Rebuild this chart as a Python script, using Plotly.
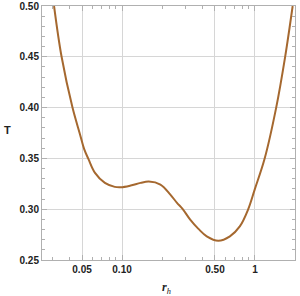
import numpy as np
import plotly.graph_objects as go

r_h = [0.0308, 0.0351, 0.0424, 0.0483, 0.0520, 0.0558, 0.0626, 0.0743, 0.0882, 0.0978, 0.1161, 0.1379,
       0.1590, 0.1944, 0.2309, 0.2591, 0.2852, 0.3256, 0.3755, 0.4337, 0.5295, 0.6475, 0.7688, 0.8867,
       0.9948, 1.181, 1.444, 1.686, 1.921]
T = [0.500, 0.450, 0.400, 0.3736, 0.3588, 0.3496, 0.3358, 0.3259, 0.3220, 0.3216, 0.3233, 0.3259,
     0.3272, 0.3243, 0.3144, 0.3062, 0.3003, 0.2897, 0.2806, 0.2733, 0.2690, 0.2733, 0.2831, 0.2996,
     0.3193, 0.3496, 0.400, 0.450, 0.500]

x_major = [0.05, 0.1, 0.5, 1]
x_major_labels = ["0.05", "0.10", "0.50", "1"]
x_minor = [0.03, 0.04, 0.06, 0.07, 0.08, 0.09, 0.2, 0.3, 0.4, 0.6, 0.7, 0.8, 0.9, 2]
y_major = [0.25, 0.30, 0.35, 0.40, 0.45, 0.50]
y_major_labels = ["0.25", "0.30", "0.35", "0.40", "0.45", "0.50"]
y_minor = [round(0.25 + 0.01 * i, 2) for i in range(26)]

fig = go.Figure()
fig.add_trace(go.Scatter(x=r_h, y=T, mode="lines",
                         line=dict(color="#a5682f", width=2, shape="spline", smoothing=1.0)))

font = dict(family="Liberation Sans, Arial, sans-serif", size=10, color="#222222", weight="bold")
axcol = "#b0b0b0"
fig.update_xaxes(type="log", range=[np.log10(0.025), np.log10(2)], automargin=False,
                 tickvals=x_major, ticktext=x_major_labels, tickfont=font,
                 showgrid=True, gridcolor="#d6d6d6", gridwidth=1,
                 showline=True, linecolor=axcol, linewidth=1, mirror="ticks",
                 ticks="inside", ticklen=5, tickcolor=axcol,
                 minor=dict(tickvals=x_minor, ticks="inside", ticklen=3, tickcolor=axcol, showgrid=False),
                 zeroline=False)
fig.update_yaxes(range=[0.25, 0.50], automargin=False,
                 tickvals=y_major, ticktext=y_major_labels, tickfont=font,
                 showgrid=True, gridcolor="#d6d6d6", gridwidth=1,
                 showline=True, linecolor=axcol, linewidth=1, mirror="ticks",
                 ticks="inside", ticklen=5, tickcolor=axcol,
                 minor=dict(tickvals=y_minor, ticks="inside", ticklen=3, tickcolor=axcol, showgrid=False),
                 zeroline=False)
fig.add_annotation(text="T", xref="paper", yref="paper", x=-0.138, y=0.512, xanchor="center", yanchor="middle",
                   showarrow=False, font=dict(family="Liberation Sans, Arial, sans-serif", size=11, color="#222222", weight="bold"))
fig.add_annotation(text="<i><b>r</b></i><sub><i>h</i></sub>", xref="paper", yref="paper", x=0.494, y=-0.112,
                   xanchor="center", yanchor="middle", showarrow=False,
                   font=dict(family="Liberation Serif, serif", size=12, color="#222222"))
fig.update_layout(width=300, height=296, margin=dict(l=42, r=5, t=6, b=36),
                  plot_bgcolor="white", paper_bgcolor="white", showlegend=False)
fig.write_html("out.html", config={"displayModeBar": False},
               post_script="document.body.style.margin='0';document.body.style.overflow='hidden';")
